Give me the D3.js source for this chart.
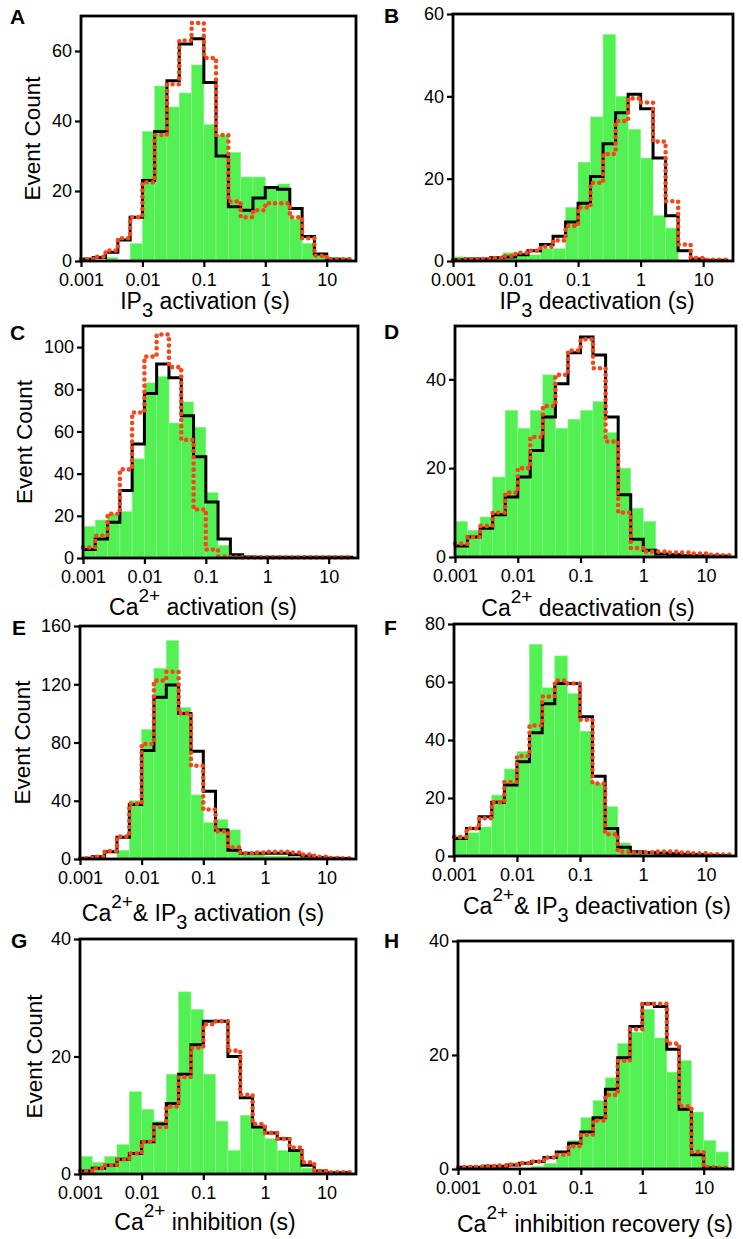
<!DOCTYPE html>
<html>
<head>
<meta charset="utf-8">
<script src="https://cdn.jsdelivr.net/npm/d3@7"></script>
<style>
body { margin: 0; background: #fff; }
svg text { font-family: "Liberation Sans", Arial, Helvetica, sans-serif; fill: #000; }
</style>
</head>
<body>
<script>
// log bin edges in seconds, 5 bins per decade
var binEdges = [0.001, 0.00158, 0.00251, 0.00398, 0.00631, 0.01, 0.0158, 0.0251, 0.0398, 0.0631,
                0.1, 0.158, 0.251, 0.398, 0.631, 1, 1.58, 2.51, 3.98, 6.31, 10, 15.8, 25.1];
var xTicks = [0.001, 0.01, 0.1, 1, 10];
var xTickLabels = ["0.001", "0.01", "0.1", "1", "10"];

// A - IP3 activation
var eventsA = [1, 0, 1, 0, 5, 37, 50, 44, 48, 56, 39, 36, 31, 24, 24, 21, 22, 12, 5, 2, 1, 1];
var solidA  = [0.5, 1, 2.5, 6, 12.5, 23, 37, 51.5, 62, 63.5, 51, 30, 15.5, 14.5, 18, 21, 20.5, 15, 7, 2, 0.5, 0.3];
var dottedA = [0.5, 1.2, 3, 6.5, 12.5, 22.5, 36, 50.5, 63, 68, 58, 36, 17, 12.5, 14.5, 16.5, 16.5, 12.5, 6.5, 1.5, 0.5, 0.5];
var yTicksA = [0, 20, 40, 60];

// B - IP3 deactivation
var eventsB = [1, 0.5, 0.5, 1, 2, 1.5, 1.5, 3, 3, 13, 24, 35, 55, 40, 32, 25, 11, 8, 0, 0, 0, 0];
var solidB  = [0.3, 0.5, 0.5, 0.8, 1, 1.5, 2.5, 4, 6, 9.5, 14, 20.5, 28.5, 36, 40.5, 37, 25, 11, 2.5, 0.5, 0.2, 0.2];
var dottedB = [0.3, 0.4, 0.5, 0.7, 1.2, 2, 2.5, 3.5, 5, 8.5, 13, 19, 26, 34, 39.5, 38.5, 29, 14.5, 4, 0.7, 0.3, 0.3];
var yTicksB = [0, 20, 40, 60];

// C - Ca2+ activation
var eventsC = [15, 18, 21, 22, 47, 83, 86, 64, 74, 62, 31, 6, 1, 0.3, 0.3, 0.3, 0.3, 0.3, 0.3, 0.3, 0.3, 0.3];
var solidC  = [4, 9, 17, 32, 54, 78, 92, 85.5, 67.5, 48, 26.5, 9, 1.5, 0.5, 0.3, 0.3, 0.3, 0.3, 0.3, 0.3, 0.3, 0.3];
var dottedC = [5, 10.5, 21, 42, 69, 95.5, 106, 90.5, 56, 23, 4, 0.7, 0.3, 0.3, 0.3, 0.3, 0.3, 0.3, 0.3, 0.3, 0.3, 0.3];
var yTicksC = [0, 20, 40, 60, 80, 100];

// D - Ca2+ deactivation
var eventsD = [8, 6, 9, 18, 33, 29, 33, 41, 29, 31, 33, 35, 28, 20, 11, 8, 0.3, 0.3, 0.3, 0.2, 0.2, 0.2];
var solidD  = [2.5, 4.5, 6.5, 9.5, 13.5, 18, 24, 31.5, 39, 46, 49.5, 45.5, 31.5, 14, 4, 1.5, 0.7, 0.5, 0.3, 0.3, 0.2, 0.2];
var dottedD = [3, 4.5, 7, 10, 14.5, 20, 27, 34, 41, 46.5, 49, 42.5, 26, 10, 2, 1.2, 1.2, 1, 1, 0.8, 0.5, 0.4];
var yTicksD = [0, 20, 40];

// E - Ca2+ & IP3 activation
var eventsE = [0, 0, 0, 6, 40, 89, 131, 150, 104, 44, 25, 27, 20, 4, 3, 2, 2, 1, 1, 1, 0.5, 0.5];
var solidE  = [0.5, 1.5, 5, 15, 37.5, 74.5, 111, 119.5, 100, 74, 46.5, 20, 6, 4, 4, 4, 4, 3, 2, 1, 0.5, 0.3];
var dottedE = [0.5, 1.5, 5.5, 15.5, 38, 79, 122.5, 128.5, 100, 64, 34, 19, 8, 4, 4.5, 5, 5, 4.5, 3, 1.5, 0.7, 0.5];
var yTicksE = [0, 40, 80, 120, 160];

// F - Ca2+ & IP3 deactivation
var eventsF = [7, 8, 10, 21, 30, 36, 73, 58, 69, 56, 43, 25, 17, 4.5, 1.5, 1, 1, 1, 1, 0.5, 0.5, 0.5];
var solidF  = [6, 9.5, 13.5, 18.5, 24.5, 32.5, 42.5, 52.5, 59.5, 59.5, 48, 27.5, 9.5, 3, 1.5, 1.2, 1, 0.8, 0.6, 0.5, 0.3, 0.2];
var dottedF = [6.5, 9.5, 13, 18.5, 25.5, 34.5, 45, 55, 60.5, 59.5, 47, 25, 7.5, 1.5, 1.2, 1.3, 1.5, 1.5, 1.2, 0.9, 0.6, 0.5];
var yTicksF = [0, 20, 40, 60, 80];

// G - Ca2+ inhibition
var eventsG = [3, 2, 3, 5, 14, 11, 9, 17, 31, 28, 17, 9, 4, 10, 8, 6, 4, 4, 1, 0, 0, 0];
var solidG  = [0.5, 1, 1.5, 2.5, 3.5, 5.5, 8.5, 12, 17, 22, 26, 26, 20, 13, 8, 7, 6, 4, 1.5, 0.5, 0.2, 0.2];
var dottedG = [0.5, 1, 1.5, 2.5, 3.5, 5.5, 8, 11.5, 16.5, 21.5, 25.5, 26, 21, 13.5, 8.5, 7, 6, 4.5, 2, 0.5, 0.3, 0.3];
var yTicksG = [0, 20, 40];

// H - Ca2+ inhibition recovery
var eventsH = [0, 0, 0, 0, 0, 0, 0.5, 1, 2.5, 5, 9, 12, 16, 22, 24, 28, 23, 17, 19, 10, 5, 3];
var solidH  = [0.3, 0.3, 0.5, 0.5, 0.7, 1, 1.3, 2, 3, 4.5, 6.5, 9, 14, 19.5, 25, 29, 28.5, 21, 10.5, 2.5, 0.2, 0.1];
var dottedH = [0.3, 0.4, 0.5, 0.6, 0.8, 1, 1.3, 2, 2.5, 4, 6, 8.5, 13, 19, 24.5, 29, 29, 22, 11, 3, 0.3, 0.2];
var yTicksH = [0, 20, 40];

var labelA = [["IP"], ["3", "sub"], [" activation (s)"]];
var labelB = [["IP"], ["3", "sub"], [" deactivation (s)"]];
var labelC = [["Ca"], ["2+", "sup"], [" activation (s)"]];
var labelD = [["Ca"], ["2+", "sup"], [" deactivation (s)"]];
var labelE = [["Ca"], ["2+", "sup"], ["& IP"], ["3", "sub"], [" activation (s)"]];
var labelF = [["Ca"], ["2+", "sup"], ["& IP"], ["3", "sub"], [" deactivation (s)"]];
var labelG = [["Ca"], ["2+", "sup"], [" inhibition (s)"]];
var labelH = [["Ca"], ["2+", "sup"], [" inhibition recovery (s)"]];

var green = "#52f052";
var orange = "#f7461a";

var panels = [
  {id: "A", events: eventsA, solid: solidA, dotted: dottedA, yTicks: yTicksA, yMax: 70, label: labelA,
   x0: 81, x1: 356, y0: 16, y1: 261, labX: 205, labY: 309, ylab: true, ylabX: 40, letX: 10, letY: 24},
  {id: "B", events: eventsB, solid: solidB, dotted: dottedB, yTicks: yTicksB, yMax: 60, label: labelB,
   x0: 453, x1: 733, y0: 14, y1: 261, labX: 597, labY: 309, ylab: false, letX: 384, letY: 23},
  {id: "C", events: eventsC, solid: solidC, dotted: dottedC, yTicks: yTicksC, yMax: 110, label: labelC,
   x0: 83, x1: 358, y0: 326, y1: 558, labX: 203, labY: 615, ylab: true, ylabX: 31.5, letX: 10, letY: 340},
  {id: "D", events: eventsD, solid: solidD, dotted: dottedD, yTicks: yTicksD, yMax: 52, label: labelD,
   x0: 455, x1: 736, y0: 326, y1: 557, labX: 588, labY: 616, ylab: false, letX: 384, letY: 339},
  {id: "E", events: eventsE, solid: solidE, dotted: dottedE, yTicks: yTicksE, yMax: 160, label: labelE,
   x0: 80, x1: 356, y0: 626, y1: 859, labX: 203, labY: 921, ylab: true, ylabX: 30, letX: 12, letY: 635},
  {id: "F", events: eventsF, solid: solidF, dotted: dottedF, yTicks: yTicksF, yMax: 80, label: labelF,
   x0: 454, x1: 736, y0: 624, y1: 856, labX: 597, labY: 914, ylab: false, letX: 384, letY: 635},
  {id: "G", events: eventsG, solid: solidG, dotted: dottedG, yTicks: yTicksG, yMax: 40, label: labelG,
   x0: 80, x1: 356, y0: 939, y1: 1174, labX: 205, labY: 1230, ylab: true, ylabX: 41.5, letX: 11, letY: 948},
  {id: "H", events: eventsH, solid: solidH, dotted: dottedH, yTicks: yTicksH, yMax: 40, label: labelH,
   x0: 458, x1: 733, y0: 941, y1: 1169, labX: 595, labY: 1232, ylab: false, letX: 384, letY: 948}
];

var svg = d3.select("body").append("svg")
    .attr("width", 743)
    .attr("height", 1239);

function stepPoints(vals) {
    var pts = vals.map(function(v, i) { return [binEdges[i], v]; });
    pts.push([binEdges[vals.length], vals[vals.length - 1]]);
    return pts;
}

function drawPanel(p) {
    var x = d3.scaleLog().domain([0.001, 30]).range([p.x0, p.x1]);
    var y = d3.scaleLinear().domain([0, p.yMax]).range([p.y1, p.y0]);
    var g = svg.append("g").attr("class", "panel");

    g.selectAll("rect.bar")
        .data(p.events)
        .enter()
        .append("rect")
        .attr("class", "bar")
        .attr("x", function(d, i) { return x(binEdges[i]); })
        .attr("width", function(d, i) { return x(binEdges[i + 1]) - x(binEdges[i]); })
        .attr("y", function(d) { return y(d); })
        .attr("height", function(d) { return y(0) - y(d); })
        .attr("fill", green)
        .attr("stroke", "#8ef58e")
        .attr("stroke-width", 0.6);

    var line = d3.line()
        .x(function(d) { return x(d[0]); })
        .y(function(d) { return y(d[1]); })
        .curve(d3.curveStepAfter);

    g.append("path")
        .attr("d", line(stepPoints(p.solid)))
        .attr("fill", "none")
        .attr("stroke", "#000")
        .attr("stroke-width", 3);

    g.append("path")
        .attr("d", line(stepPoints(p.dotted)))
        .attr("fill", "none")
        .attr("stroke", orange)
        .attr("stroke-width", 4.6)
        .attr("stroke-linecap", "round")
        .attr("stroke-dasharray", "0 6.2");

    // frame
    g.append("rect")
        .attr("x", p.x0)
        .attr("y", p.y0)
        .attr("width", p.x1 - p.x0)
        .attr("height", p.y1 - p.y0)
        .attr("fill", "none")
        .attr("stroke", "#000")
        .attr("stroke-width", 2.8);

    var xAxis = g.append("g")
        .attr("transform", "translate(0," + p.y1 + ")")
        .call(d3.axisBottom(x)
            .tickValues(xTicks)
            .tickFormat(function(d, i) { return xTickLabels[i]; })
            .tickSize(6)
            .tickPadding(6));

    var yAxis = g.append("g")
        .attr("transform", "translate(" + p.x0 + ",0)")
        .call(d3.axisLeft(y)
            .tickValues(p.yTicks)
            .tickFormat(d3.format("d"))
            .tickSize(6)
            .tickPadding(3));

    [xAxis, yAxis].forEach(function(a) {
        a.select(".domain").remove();
        a.selectAll(".tick line").attr("stroke", "#000").attr("stroke-width", 2.2);
        a.selectAll(".tick text")
            .style("font-size", "18px")
            .style("font-family", "'Liberation Sans', Arial, sans-serif");
    });

    // x label with sub/superscripts
    var t = g.append("text")
        .attr("x", p.labX)
        .attr("y", p.labY)
        .attr("text-anchor", "middle")
        .style("font-size", "23px");
    var shift = 0;
    p.label.forEach(function(seg) {
        var ts = t.append("tspan").text(seg[0]);
        var want = 0;
        if (seg[1] === "sub") { want = 8; ts.style("font-size", "20px"); }
        if (seg[1] === "sup") { want = -13; ts.style("font-size", "19px"); }
        if (want - shift !== 0) ts.attr("dy", want - shift);
        shift = want;
    });

    if (p.ylab) {
        g.append("text")
            .attr("transform", "translate(" + p.ylabX + "," + ((p.y0 + p.y1) / 2) + ") rotate(-90)")
            .attr("text-anchor", "middle")
            .style("font-size", "22.5px")
            .text("Event Count");
    }

    g.append("text")
        .attr("x", p.letX)
        .attr("y", p.letY)
        .style("font-size", "21px")
        .style("font-weight", "bold")
        .text(p.id);
}

panels.forEach(drawPanel);
</script>
</body>
</html>
